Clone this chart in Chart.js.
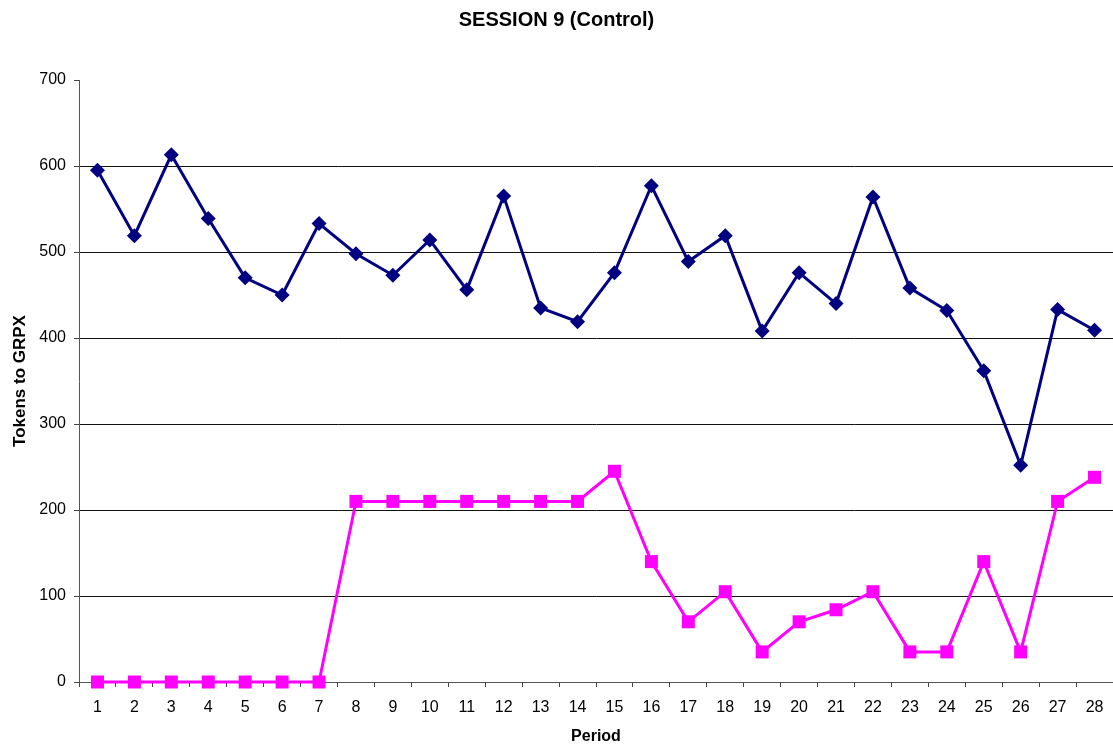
<!DOCTYPE html>
<html>
<head>
<meta charset="utf-8">
<script src="https://cdn.jsdelivr.net/npm/chart.js@4"></script>
<style>
  html, body { margin: 0; padding: 0; background: #ffffff; overflow: hidden; }
  #wrap { width: 1113px; height: 748px; position: relative; }
</style>
</head>
<body>
<div id="wrap"><canvas id="chart"></canvas></div>
<script>
// Periods of the session
const periods = ['1','2','3','4','5','6','7','8','9','10','11','12','13','14',
                 '15','16','17','18','19','20','21','22','23','24','25','26','27','28'];

// Tokens to GRPX per period, first series (navy diamonds)
const seriesA = [595, 519, 613, 539, 470, 450, 533, 498, 473, 514, 456, 565, 435, 419,
                 476, 577, 489, 519, 408, 476, 440, 564, 458, 432, 362, 252, 433, 409];

// Tokens to GRPX per period, second series (magenta squares)
const seriesB = [0, 0, 0, 0, 0, 0, 0, 210, 210, 210, 210, 210, 210, 210,
                 245, 140, 70, 105, 35, 70, 84, 105, 35, 35, 140, 35, 210, 238];

// Value axis ticks
const yMin = 0, yMax = 700, yStep = 100;

const FONT = '"Liberation Sans", Arial, Helvetica, sans-serif';

new Chart(document.getElementById('chart'), {
  type: 'line',
  data: {
    labels: periods,
    datasets: [
      {
        data: seriesB,
        borderColor: '#FF00FF',
        backgroundColor: '#FF00FF',
        borderWidth: 3,
        pointStyle: 'rect',
        pointRadius: 9.2,
        pointHoverRadius: 9.2,
        pointBorderWidth: 0,
        tension: 0,
        clip: false
      },
      {
        data: seriesA,
        borderColor: '#000080',
        backgroundColor: '#000080',
        borderWidth: 3,
        pointStyle: 'rectRot',
        pointRadius: 7.5,
        pointHoverRadius: 7.5,
        pointBorderWidth: 0,
        tension: 0,
        clip: false
      }
    ]
  },
  options: {
    responsive: true,
    maintainAspectRatio: false,
    animation: false,
    layout: { autoPadding: false, padding: { left: 0, right: 0, top: 0, bottom: 0 } },
    plugins: {
      legend: { display: false },
      tooltip: { enabled: false },
      title: {
        display: true,
        text: 'SESSION 9 (Control)',
        color: '#000000',
        font: { family: FONT, size: 20, weight: 'bold' },
        padding: { top: 8, bottom: 48 }
      }
    },
    scales: {
      x: {
        type: 'category',
        offset: true,
        grid: {
          offset: true,
          drawOnChartArea: false,
          drawTicks: true,
          tickLength: 5,
          tickColor: '#444444'
        },
        border: { display: true, color: '#555555', width: 1 },
        ticks: {
          color: '#000000',
          font: { family: FONT, size: 16, lineHeight: 2.25 },
          padding: 3,
          maxRotation: 0,
          autoSkip: false
        },
        title: {
          display: true,
          text: 'Period',
          color: '#000000',
          font: { family: FONT, size: 16, weight: 'bold' },
          padding: { top: 0, bottom: 2 }
        },
        afterFit(scale) {
          scale.height = 66;
          scale.paddingLeft = 0;
          scale.paddingRight = 0;
        }
      },
      y: {
        min: yMin,
        max: yMax,
        grid: {
          color: (ctx) => (ctx.tick && ctx.tick.value === yMax) ? 'rgba(0,0,0,0)' : '#111111',
          lineWidth: 1,
          drawTicks: true,
          tickLength: 5,
          tickColor: '#444444'
        },
        border: { display: true, color: '#555555', width: 1 },
        ticks: {
          stepSize: yStep,
          color: '#000000',
          font: { family: FONT, size: 16 },
          padding: 8
        },
        title: {
          display: true,
          text: 'Tokens to GRPX',
          color: '#000000',
          font: { family: FONT, size: 17, weight: 'bold' },
          padding: { top: 10, bottom: 0 }
        },
        afterFit(scale) {
          scale.width = 79;
          scale.paddingTop = 0;
          scale.paddingBottom = 0;
        }
      }
    }
  }
});
</script>
</body>
</html>
